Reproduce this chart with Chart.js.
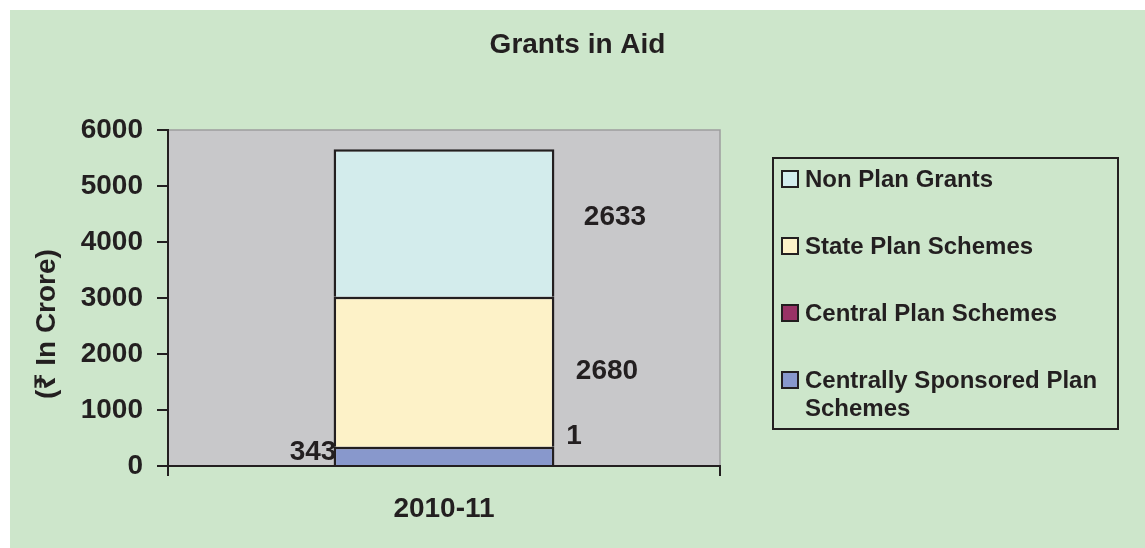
<!DOCTYPE html>
<html>
<head>
<meta charset="utf-8">
<title>Grants in Aid</title>
<script src="https://cdn.jsdelivr.net/npm/chart.js@4/dist/chart.umd.min.js"></script>
<style>
  body { margin: 0; background: #fff; }
  #wrap { position: absolute; left: 10px; top: 10px; width: 1135px; height: 538px; background: #cde6cb; }
</style>
</head>
<body>
<div id="wrap"><canvas id="grantsChart" width="1135" height="538"></canvas></div>
<script>
const years = ["2010-11"];
const seriesNames = ["Centrally Sponsored Plan Schemes", "Central Plan Schemes", "State Plan Schemes", "Non Plan Grants"];
const centrallySponsored = [343];
const centralPlan = [1];
const statePlan = [2680];
const nonPlan = [2633];
const yTicks = [0, 1000, 2000, 3000, 4000, 5000, 6000];

const colors = ["#8898cc", "#993366", "#fdf2c8", "#d3ecec"];
const ink = "#231f20";
const fontFamily = "'Liberation Sans', Arial, 'Noto Sans', 'DejaVu Sans', sans-serif";

// where each value label sits, relative to the middle of its segment
const labelShift = [[-131, -4], [130, -10], [163, 0], [171, -6]];

const extras = {
  id: "extras",
  beforeDraw(chart) {
    const { ctx, chartArea: a } = chart;
    ctx.save();
    ctx.fillStyle = "#c8c8ca";
    ctx.fillRect(a.left, a.top, a.right - a.left, a.bottom - a.top);
    ctx.strokeStyle = "#9d9d9f";
    ctx.lineWidth = 1.5;
    ctx.beginPath();
    ctx.moveTo(a.left, a.top);
    ctx.lineTo(a.right, a.top);
    ctx.lineTo(a.right, a.bottom);
    ctx.stroke();
    ctx.restore();
  },
  afterDatasetsDraw(chart) {
    const ctx = chart.ctx;
    ctx.save();
    ctx.font = "bold 28px " + fontFamily;
    ctx.fillStyle = ink;
    ctx.textAlign = "center";
    ctx.textBaseline = "middle";
    chart.data.datasets.forEach((ds, i) => {
      const el = chart.getDatasetMeta(i).data[0];
      const mid = (el.y + el.base) / 2;
      ctx.fillText(String(ds.data[0]), el.x + labelShift[i][0], mid + labelShift[i][1]);
    });
    ctx.restore();
  },
  afterDraw(chart) {
    const ctx = chart.ctx;
    ctx.save();
    ctx.fillStyle = ink;

    // title
    ctx.font = "bold 28px " + fontFamily;
    ctx.textAlign = "center";
    ctx.textBaseline = "middle";
    ctx.fillText("Grants in Aid", chart.width / 2, 35);

    // y axis title
    ctx.translate(37, 314);
    ctx.rotate(-Math.PI / 2);
    ctx.fillText("(\u20B9 In Crore)", 0, 0);
    ctx.setTransform(1, 0, 0, 1, 0, 0);

    // legend box
    const box = { left: 763, top: 148, right: 1108, bottom: 419 };
    ctx.strokeStyle = ink;
    ctx.lineWidth = 2;
    ctx.strokeRect(box.left, box.top, box.right - box.left, box.bottom - box.top);

    ctx.font = "bold 24px " + fontFamily;
    ctx.textAlign = "left";
    const textX = 795;
    const maxWidth = box.right - textX - 4;
    let rowY = 169;
    for (let i = chart.data.datasets.length - 1; i >= 0; i--) {
      const ds = chart.data.datasets[i];
      ctx.fillStyle = ds.backgroundColor;
      ctx.fillRect(772, rowY - 8, 16, 16);
      ctx.strokeStyle = ink;
      ctx.lineWidth = 2;
      ctx.strokeRect(772, rowY - 8, 16, 16);

      // wrap long names onto a second line
      const lines = [];
      let line = "";
      ds.label.split(" ").forEach(w => {
        const test = line ? line + " " + w : w;
        if (line && ctx.measureText(test).width > maxWidth) {
          lines.push(line);
          line = w;
        } else {
          line = test;
        }
      });
      lines.push(line);
      ctx.fillStyle = ink;
      lines.forEach((l, k) => ctx.fillText(l, textX, rowY + 1 + k * 28));
      rowY += 67;
    }
    ctx.restore();
  }
};

const ctx = document.getElementById("grantsChart").getContext("2d");
new Chart(ctx, {
  type: "bar",
  data: {
    labels: years,
    datasets: [centrallySponsored, centralPlan, statePlan, nonPlan].map((vals, i) => ({
      label: seriesNames[i],
      data: vals,
      backgroundColor: colors[i],
      borderColor: ink,
      borderWidth: 2.5,
      borderSkipped: "start",
      barPercentage: 0.5,
      categoryPercentage: 0.8
    }))
  },
  options: {
    responsive: false,
    animation: false,
    layout: { padding: { left: 0, top: 120, right: 425, bottom: 0 } },
    plugins: {
      legend: { display: false },
      title: { display: false },
      tooltip: { enabled: false }
    },
    scales: {
      x: {
        stacked: true,
        afterFit: s => { s.height = 82; },
        grid: { drawOnChartArea: false, drawTicks: true, tickLength: 10, color: ink, lineWidth: 2 },
        border: { color: ink, width: 2 },
        ticks: { color: ink, padding: 16, font: { family: fontFamily, size: 28, weight: "bold" } }
      },
      y: {
        stacked: true,
        min: yTicks[0],
        max: yTicks[yTicks.length - 1],
        afterFit: s => { s.width = 158; },
        afterBuildTicks: s => { s.ticks = yTicks.map(v => ({ value: v })); },
        grid: { drawOnChartArea: false, drawTicks: true, tickLength: 11, color: ink, lineWidth: 2 },
        border: { color: ink, width: 2 },
        ticks: {
          color: ink,
          padding: 14,
          font: { family: fontFamily, size: 28, weight: "bold" },
          callback: v => String(v)
        }
      }
    }
  },
  plugins: [extras]
});
</script>
</body>
</html>
